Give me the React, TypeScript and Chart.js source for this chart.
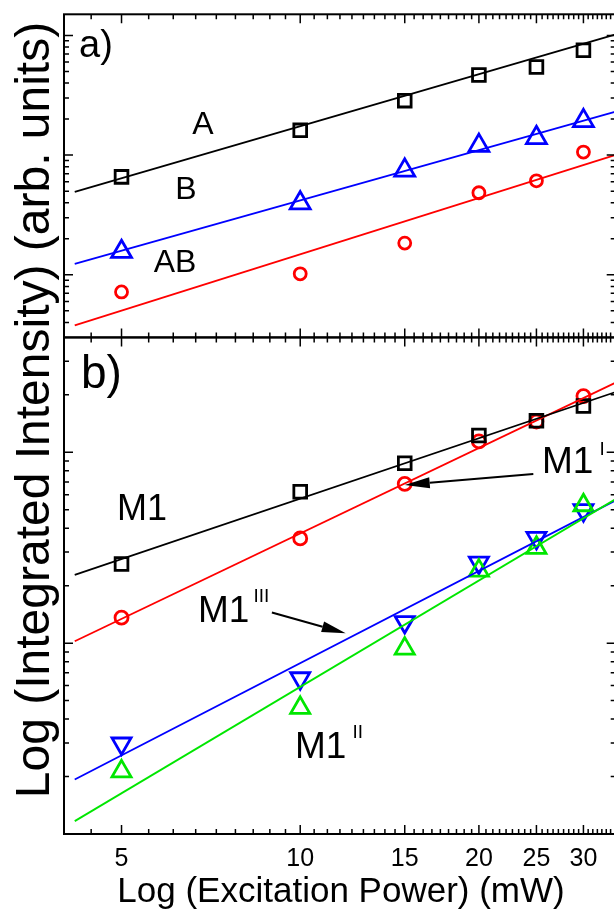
import React, { useEffect, useRef } from "react";
import { Chart, registerables } from "chart.js";

Chart.register(...registerables);

// Excitation power (mW) at which each spectrum was measured
const power = [5, 10, 15, 20, 25, 30];

// Panel a) integrated intensities (arb. units)
const intensityA = [6.58, 16.1, 28.5, 46.7, 54.4, 75.2];
const intensityB = [1.56, 3.97, 7.45, 12.0, 13.95, 19.3];
const intensityAB = [0.72, 1.02, 1.84, 4.85, 6.1, 10.6];

// Panel b) integrated intensities (arb. units)
const intensityM1 = [2.6, 6.21, 8.77, 12.25, 14.65, 17.5];
const intensityM1I = [1.36, 3.54, 6.83, 11.4, 14.5, 19.7];
const intensityM1II = [0.213, 0.458, 0.936, 2.4, 3.16, 5.28];
const intensityM1III = [0.298, 0.655, 1.29, 2.64, 3.56, 4.98];

// Power-law fits, given by their end points
const fitPower = [4.17, 34];
const fitA = [4.94, 102];
const fitB = [1.233, 23.1];
const fitAB = [0.379, 10.06];
const fitM1 = [2.28, 20.7];
const fitM1I = [1.024, 23.2];
const fitM1II = [0.1168, 5.69];
const fitM1III = [0.193, 5.6];

// Axis ranges and labelled ticks
const powerRange = [4, 34];
const panelARange = [0.3, 150];
const panelBRange = [0.1, 40];
const powerTickLabels = [5, 10, 15, 20, 25, 30];
const powerMinorPerMajor = 8;

// Arrows in panel b: [tailPower, tailIntensity, tipPower, tipIntensity]
const arrowM1I = [24.7, 7.69, 15, 6.75];
const arrowM1III = [8.96, 1.447, 11.93, 1.127];

const W = 630;
const H = 920;
const FONT = '"Liberation Sans", Arial, sans-serif';

const BLACK = "#000000";
const BLUE = "#0000ff";
const RED = "#ff0000";
const GREEN = "#00e600";

const toXY = (xs: number[], ys: number[]) => xs.map((x, i) => ({ x, y: ys[i] }));

const markers = (
  data: number[],
  yAxisID: string,
  color: string,
  pointStyle: string,
  radius: number,
  rotation = 0
) => ({
  data: toXY(power, data),
  yAxisID,
  xAxisID: "x",
  showLine: false,
  pointStyle,
  pointRadius: radius,
  pointRotation: rotation,
  pointBorderWidth: 2.8,
  pointBorderColor: color,
  pointBackgroundColor: "rgba(0,0,0,0)",
  borderColor: color,
  backgroundColor: "rgba(0,0,0,0)",
});

const fitLine = (data: number[], yAxisID: string, color: string) => ({
  data: toXY(fitPower, data),
  yAxisID,
  xAxisID: "x",
  showLine: true,
  borderColor: color,
  borderWidth: 1.8,
  pointRadius: 0,
  fill: false,
  tension: 0,
});

const hiddenParts = {
  grid: { display: false, drawTicks: false },
  border: { display: false },
  ticks: { display: false },
};

function drawArrow(
  ctx: CanvasRenderingContext2D,
  x1: number,
  y1: number,
  x2: number,
  y2: number,
  headLen: number,
  headHalf: number
) {
  const ang = Math.atan2(y2 - y1, x2 - x1);
  const c = Math.cos(ang);
  const s = Math.sin(ang);
  const bx = x2 - headLen * c;
  const by = y2 - headLen * s;
  ctx.beginPath();
  ctx.moveTo(x1, y1);
  ctx.lineTo(bx, by);
  ctx.stroke();
  ctx.beginPath();
  ctx.moveTo(x2, y2);
  ctx.lineTo(bx - headHalf * s, by + headHalf * c);
  ctx.lineTo(bx + headHalf * s, by - headHalf * c);
  ctx.closePath();
  ctx.fill();
}

function labelWithSup(
  ctx: CanvasRenderingContext2D,
  text: string,
  sup: string,
  x: number,
  y: number,
  size: number,
  supSize: number,
  supDx: number,
  supDy: number
) {
  ctx.font = `${size}px ${FONT}`;
  ctx.textAlign = "left";
  ctx.textBaseline = "alphabetic";
  ctx.fillText(text, x, y);
  if (sup) {
    const w = ctx.measureText(text).width;
    ctx.font = `${supSize}px ${FONT}`;
    ctx.fillText(sup, x + w + supDx, y - supDy);
  }
}

const framePlugin = {
  id: "panelFrames",
  afterDraw(chart: any) {
    const ctx: CanvasRenderingContext2D = chart.ctx;
    const xs = chart.scales.x;
    const ya = chart.scales.ya;
    const yb = chart.scales.yb;
    const { left, right } = chart.chartArea;
    const major = 9;
    const minor = 5;

    ctx.save();
    ctx.strokeStyle = BLACK;
    ctx.fillStyle = BLACK;

    // power tick values: labelled majors with evenly spaced minors between them
    const step = powerTickLabels[1] - powerTickLabels[0];
    const minorStep = step / (powerMinorPerMajor + 1);
    const xTicks: { v: number; major: boolean }[] = [];
    for (let n = -20; n < 200; n++) {
      const v = powerTickLabels[0] + n * minorStep;
      if (v <= powerRange[0] || v >= powerRange[1]) continue;
      xTicks.push({ v, major: n % (powerMinorPerMajor + 1) === 0 });
    }

    for (const ys of [ya, yb]) {
      const top = ys.top;
      const bottom = ys.bottom;
      ctx.lineWidth = 2;
      ctx.strokeRect(left, top, right - left, bottom - top);

      ctx.lineWidth = 1.5;
      ctx.beginPath();
      for (const t of xTicks) {
        const px = xs.getPixelForValue(t.v);
        const len = t.major ? major : minor;
        ctx.moveTo(px, top);
        ctx.lineTo(px, top + len);
        ctx.moveTo(px, bottom);
        ctx.lineTo(px, bottom - len);
      }
      const lo = Math.floor(Math.log10(ys.min));
      const hi = Math.ceil(Math.log10(ys.max));
      for (let d = lo; d <= hi; d++) {
        for (let m = 1; m <= 9; m++) {
          const v = m * Math.pow(10, d);
          if (v < ys.min * 1.0001 || v > ys.max * 0.9999) continue;
          const py = ys.getPixelForValue(v);
          const len = m === 1 ? major : minor;
          ctx.moveTo(left, py);
          ctx.lineTo(left + len, py);
          ctx.moveTo(right, py);
          ctx.lineTo(right - len, py);
        }
      }
      ctx.stroke();
    }

    // power tick labels
    ctx.font = `25px ${FONT}`;
    ctx.textAlign = "center";
    ctx.textBaseline = "alphabetic";
    for (const v of powerTickLabels) {
      ctx.fillText(String(v), xs.getPixelForValue(v), 866);
    }

    // axis titles
    ctx.font = `35px ${FONT}`;
    ctx.fillText("Log (Excitation Power) (mW)", 341, 902);
    ctx.save();
    ctx.translate(49, 410);
    ctx.rotate(-Math.PI / 2);
    ctx.font = `48px ${FONT}`;
    ctx.fillText("Log (Integrated Intensity) (arb. units)", 0, 0);
    ctx.restore();

    // panel tags
    ctx.textAlign = "left";
    ctx.font = `38px ${FONT}`;
    ctx.fillText("a)", 79, 57);
    ctx.font = `46px ${FONT}`;
    ctx.fillText("b)", 81, 388);

    // series labels, panel a
    ctx.font = `32px ${FONT}`;
    ctx.textAlign = "center";
    ctx.fillText("A", 203, 134);
    ctx.fillText("B", 186, 199);
    ctx.fillText("AB", 175, 272);

    // series labels, panel b
    labelWithSup(ctx, "M1", "", 117, 520, 36, 0, 0, 0);
    labelWithSup(ctx, "M1", "I", 542, 473, 37, 19, 6, 18);
    labelWithSup(ctx, "M1", "III", 198, 622, 37, 19, 4, 20);
    labelWithSup(ctx, "M1", "II", 295, 758, 37, 19, 6, 20);

    // arrows
    ctx.lineWidth = 2;
    const arrowPx = (a: number[]) => [
      xs.getPixelForValue(a[0]),
      yb.getPixelForValue(a[1]),
      xs.getPixelForValue(a[2]),
      yb.getPixelForValue(a[3]),
    ];
    const a1 = arrowPx(arrowM1I);
    drawArrow(ctx, a1[0], a1[1], a1[2], a1[3], 25, 5.5);
    const a2 = arrowPx(arrowM1III);
    drawArrow(ctx, a2[0], a2[1], a2[2], a2[3], 24, 5.5);

    ctx.restore();
  },
};

export default function App() {
  const ref = useRef<HTMLCanvasElement>(null);

  useEffect(() => {
    if (!ref.current) return;
    const chart = new Chart(ref.current, {
      type: "scatter",
      data: {
        datasets: [
          fitLine(fitA, "ya", BLACK),
          fitLine(fitB, "ya", BLUE),
          fitLine(fitAB, "ya", RED),
          markers(intensityA, "ya", BLACK, "rect", 9),
          markers(intensityB, "ya", BLUE, "triangle", 11.5),
          markers(intensityAB, "ya", RED, "circle", 6),
          fitLine(fitM1, "yb", BLACK),
          fitLine(fitM1I, "yb", RED),
          fitLine(fitM1II, "yb", GREEN),
          fitLine(fitM1III, "yb", BLUE),
          markers(intensityM1, "yb", BLACK, "rect", 9),
          markers(intensityM1I, "yb", RED, "circle", 6.5),
          markers(intensityM1II, "yb", GREEN, "triangle", 11),
          markers(intensityM1III, "yb", BLUE, "triangle", 11, 180),
        ] as any,
      },
      options: {
        animation: false,
        responsive: false,
        devicePixelRatio: 1,
        layout: { padding: { left: 64, top: 7, right: W - 618, bottom: H - 834 } },
        plugins: {
          legend: { display: false },
          tooltip: { enabled: false },
          title: { display: false },
        },
        scales: {
          x: {
            type: "logarithmic",
            position: "bottom",
            min: powerRange[0],
            max: powerRange[1],
            bounds: "data",
            ...hiddenParts,
          },
          ya: {
            type: "logarithmic",
            position: "left",
            stack: "panels",
            stackWeight: 326,
            weight: 2,
            min: panelARange[0],
            max: panelARange[1],
            bounds: "data",
            ...hiddenParts,
          },
          yb: {
            type: "logarithmic",
            position: "left",
            stack: "panels",
            stackWeight: 501,
            weight: 1,
            min: panelBRange[0],
            max: panelBRange[1],
            bounds: "data",
            ...hiddenParts,
          },
        } as any,
      },
      plugins: [framePlugin],
    });
    return () => chart.destroy();
  }, []);

  return (
    <div
      style={{
        position: "fixed",
        left: 0,
        top: 0,
        width: 614,
        height: 920,
        overflow: "hidden",
        background: "#ffffff",
      }}
    >
      <canvas ref={ref} width={W} height={H} style={{ display: "block", width: W, height: H }} />
    </div>
  );
}
